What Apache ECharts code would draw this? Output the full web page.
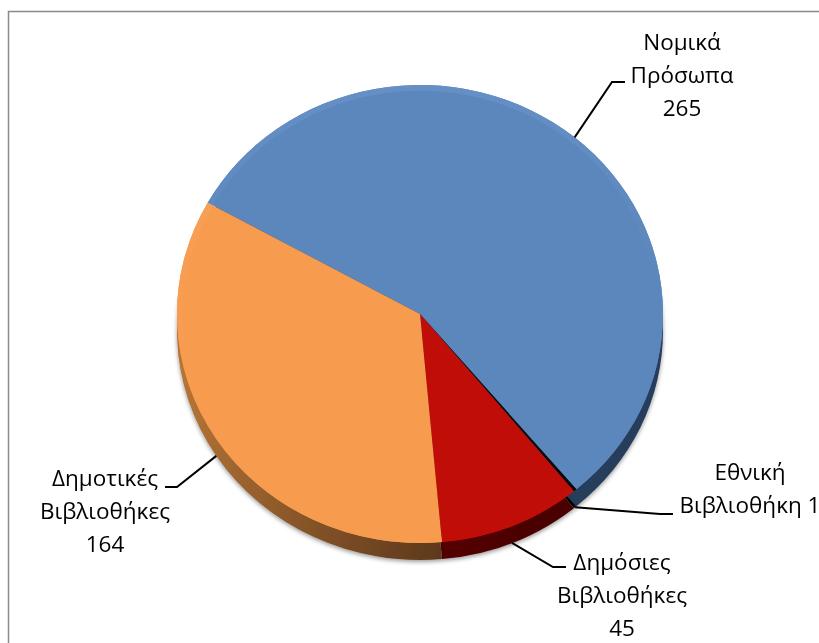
<!DOCTYPE html>
<html>
<head>
<meta charset="utf-8">
<style>
html,body{margin:0;padding:0;background:#fff;overflow:hidden;width:819px;height:643px}
#pie,#labels{position:absolute;left:0;top:0;width:819px;height:643px}
#pie{transform:scaleY(0.9424);transform-origin:420px 314px}
</style>
<script src="https://cdn.jsdelivr.net/npm/echarts@6/dist/echarts.min.js"></script>
</head>
<body>
<div id="pie"></div>
<div id="labels"></div>
<script>
const categories = ['Νομικά\nΠρόσωπα', 'Εθνική\nΒιβλιοθήκη', 'Δημόσιες\nΒιβλιοθήκες', 'Δημοτικές\nΒιβλιοθήκες'];
const values = [265, 1, 45, 164];
const topColors = ['#5b87bd', '#0b0b0b', '#c00d08', '#f79b4f'];
const rimColors = ['#658fc5', '#0b0b0b', '#c40f0a', '#f89f56'];

const cx = 420, cy = 314, rx = 243, ry = 229, depth = 17, startAngle = 150.9;
const total = values.reduce((a, b) => a + b, 0);

function depthColor(i) {
  const stops = [
    ['#2c4568', '#263c5a'], ['#050505', '#050505'], ['#5a0000', '#450000'], ['#b57436', '#5c381c']
  ][i];
  return {type: 'linear', x: 0, y: 0.55, x2: 1, y2: 1,
    colorStops: [{offset: 0, color: stops[0]}, {offset: 1, color: stops[1]}]};
}
function rimColor(i) {
  return {type: 'linear', x: 0, y: 0, x2: 0, y2: 1,
    colorStops: [{offset: 0, color: rimColors[i]}, {offset: 0.5, color: topColors[i]}, {offset: 1, color: topColors[i]}]};
}
const pieBase = {type: 'pie', startAngle: startAngle, silent: true, animation: false,
  label: {show: false}, labelLine: {show: false}};

const pieChart = echarts.init(document.getElementById('pie'), null, {renderer: 'svg', width: 819, height: 643});
pieChart.setOption({
  animation: false,
  series: [
    Object.assign({}, pieBase, {
      center: [cx, cy + depth / 0.9424], radius: [0, rx], z: 1,
      data: values.map((v, i) => ({value: v, name: categories[i],
        itemStyle: {color: depthColor(i), shadowColor: 'rgba(0,0,0,0.4)', shadowBlur: 4, shadowOffsetY: 2}}))
    }),
    Object.assign({}, pieBase, {
      center: [cx, cy], radius: [0, rx], z: 2,
      data: values.map((v, i) => ({value: v, name: categories[i], itemStyle: {color: topColors[i]}}))
    }),
    Object.assign({}, pieBase, {
      center: [cx, cy], radius: [rx - 6, rx], z: 3,
      data: values.map((v, i) => ({value: v, name: categories[i], itemStyle: {color: rimColor(i)}}))
    })
  ]
});

// leader lines start on the elliptical rim at each slice's middle angle
function rimPoint(i) {
  const before = values.slice(0, i).reduce((a, b) => a + b, 0);
  const mid = (before + values[i] / 2) / total * 2 * Math.PI - startAngle * Math.PI / 180 + Math.PI / 2;
  const s = Math.sin(mid), c = Math.cos(mid);
  return [cx + rx * s, cy - ry * c + (c < 0 ? depth : 0)];
}
const labelCenters = [[682, 76.5], [750, 490], [622, 597], [105, 513]];
const elbows = [[[612, 82], [625, 82]], [[660, 514], [673, 514]], [[553, 567], [566, 567]], [[177, 487], [165, 487]]];

const labelChart = echarts.init(document.getElementById('labels'), null, {width: 819, height: 643});
labelChart.setOption({
  animation: false,
  backgroundColor: 'transparent',
  graphic: [{type: 'rect', silent: true, shape: {x: 8.5, y: 11.5, width: 900, height: 720},
    style: {fill: 'none', stroke: '#8a8a8a', lineWidth: 1.5}}],
  series: [{
    type: 'pie', startAngle: startAngle, center: [cx, cy], radius: [0, rx], silent: true, animation: false,
    itemStyle: {color: 'rgba(0,0,0,0)'},
    data: values.map((v, i) => ({value: v, name: categories[i]})),
    label: {show: true, color: '#000', fontFamily: '"Open Sans"', fontSize: 22.5, lineHeight: 33, align: 'center',
      formatter: p => p.dataIndex === 1 ? p.name + ' ' + p.value : p.name + '\n' + p.value},
    labelLine: {show: true, lineStyle: {color: '#000', width: 2}},
    labelLayout: p => {
      const i = p.dataIndex;
      return {x: labelCenters[i][0], y: labelCenters[i][1], align: 'center', verticalAlign: 'middle',
        labelLinePoints: [rimPoint(i), elbows[i][0], elbows[i][1]]};
    }
  }]
});
</script>
</body>
</html>
